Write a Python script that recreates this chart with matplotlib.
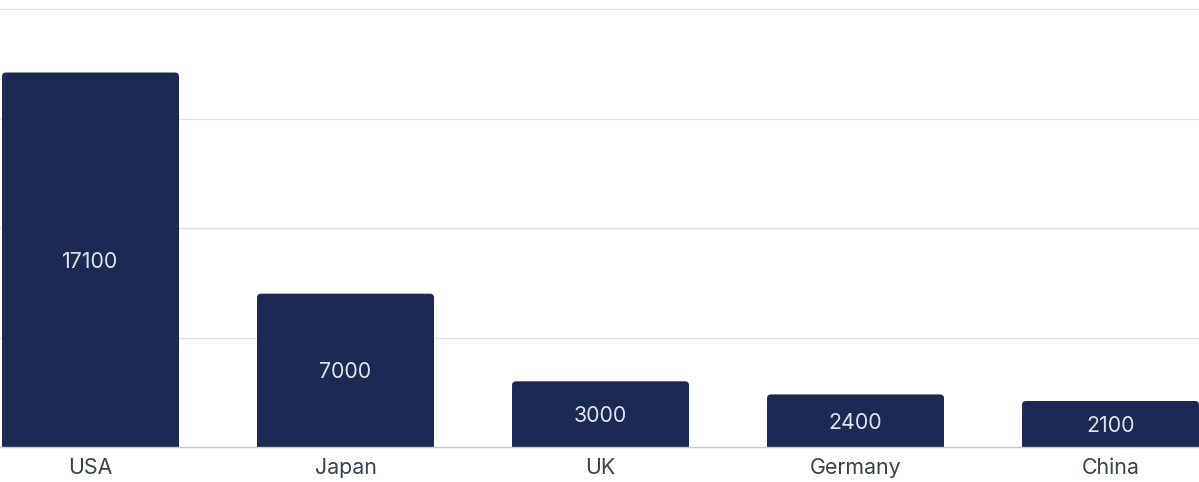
import matplotlib.pyplot as plt
from matplotlib.patches import FancyBboxPatch, Rectangle

countries = ["USA", "Japan", "UK", "Germany", "China"]
values = [17100, 7000, 3000, 2400, 2100]

plt.rcParams['font.family'] = ['Inter', 'DejaVu Sans']

bar_color = "#1a2a52"
fig = plt.figure(figsize=(11.99, 4.82), dpi=100)
ax = fig.add_axes([0, 35 / 482, 1, 447 / 482])

x = list(range(len(countries)))
bars = ax.bar(x, values, width=0.694, color=bar_color, zorder=3)

ax.set_xlim(-0.355, 4.347)
ax.set_ylim(0, 20000 * 447 / 438)
ax.set_yticks([5000, 10000, 15000, 20000])
ax.yaxis.grid(True, color="#e2e2e6", linewidth=1, zorder=0)
ax.tick_params(axis="y", left=False, labelleft=False)
ax.tick_params(axis="x", length=0, pad=8, labelsize=15.4, labelcolor="#3c4150")
ax.set_xticks(x)
ax.set_xticklabels(countries)
for s in ["top", "right", "left"]:
    ax.spines[s].set_visible(False)
ax.spines["bottom"].set_color("#c8c9cf")
ax.spines["bottom"].set_linewidth(1)
ax.spines["bottom"].set_zorder(4)

# rounded top corners: one rounded box + a square lower part
px_x = 1 / 255
px_y = (20000 * 447 / 438) / 447
r = 4
for b in bars:
    b.set_visible(False)
    bx, bw, bh = b.get_x(), b.get_width(), b.get_height()
    ax.add_patch(FancyBboxPatch((bx, 0), bw, bh,
                                boxstyle=f"round,pad=0,rounding_size={r * px_x}",
                                mutation_aspect=px_y / px_x,
                                facecolor=bar_color, edgecolor="none", zorder=3))
    ax.add_patch(Rectangle((bx, 0), bw, bh - r * 2 * px_y,
                           facecolor=bar_color, edgecolor="none", zorder=3))
    ax.text(bx + bw / 2, bh / 2, f"{int(bh)}", ha="center", va="center_baseline",
            color="#dde2ee", fontsize=15.4, zorder=5)

fig.savefig("out.png", dpi=100)
